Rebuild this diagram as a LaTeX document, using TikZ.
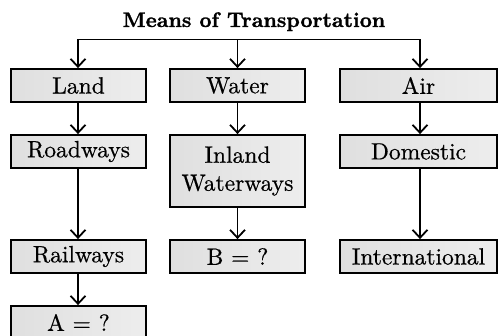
\documentclass[tikz,border=0pt]{standalone}
\usepackage{fontspec}
\usetikzlibrary{arrows.meta}
\newfontfamily\lmten[FakeBold=0.6]{lmroman10-regular.otf}
\newfontfamily\lmtenbold[FakeBold=1.2]{lmroman10-bold.otf}
\newcommand\myboxfont{\lmten\fontsize{23.5pt}{28pt}\selectfont}
\newcommand\mytitlefont{\lmtenbold\fontsize{21pt}{23pt}\selectfont}
\begin{document}
\begin{tikzpicture}[x=1pt,y=-1pt]
\tikzset{
  box/.style={draw=black, line width=1.8pt, rectangle, inner sep=0pt,
    left color=gray!25, middle color=gray!4, right color=gray!14,
    minimum height=33pt, font=\myboxfont, align=center},
  conn/.style={line width=1.8pt, -{Straight Barb[length=8pt,width=15pt,line width=1.8pt]}},
  hline/.style={line width=1.8pt}}
\useasboundingbox (0,0) rectangle (498,336);
\node[anchor=base, font=\mytitlefont] (title) at (254,27) {Means of Transportation};
\node[box, minimum width=135pt] (land) at (78.5,85.5) {Land};
\node[box, minimum width=135pt] (water) at (237.5,85.5) {Water};
\node[box, minimum width=157pt] (air) at (418.5,85.5) {Air};
\node[box, minimum width=135pt] (road) at (78.5,151.5) {Roadways};
\node[box, minimum width=135pt] (rail) at (78.5,256.5) {Railways};
\node[box, minimum width=135pt] (a) at (78.5,322.5) {A = ?};
\node[box, minimum width=135pt, minimum height=72pt] (inland) at (237.5,171) {Inland\\Waterways};
\node[box, minimum width=135pt] (b) at (237.5,256.5) {B = ?};
\node[box, minimum width=157pt] (dom) at (418.5,151.5) {Domestic};
\node[box, minimum width=157pt] (intl) at (418.5,256.5) {International};
\coordinate (hl) at (78,39.5);
\coordinate (hm) at (237.5,39.5);
\coordinate (hr) at (420,39.5);
\draw[hline] (hl) -- (hr);
\draw[conn] (hl) -- (hl |- land.north);
\draw[conn] (hm) -- (water.north);
\draw[conn] (hr) -- (hr |- air.north);
\draw[conn] (land.south -| hl) -- (road.north -| hl);
\draw[conn] (road.south -| hl) -- (rail.north -| hl);
\draw[conn] (rail.south -| hl) -- (a.north -| hl);
\draw[conn] (water.south) -- (inland.north);
\draw[conn] (inland.south) -- (b.north);
\draw[conn] (air.south -| hr) -- (dom.north -| hr);
\draw[conn] (dom.south -| hr) -- (intl.north -| hr);
\end{tikzpicture}
\end{document}
